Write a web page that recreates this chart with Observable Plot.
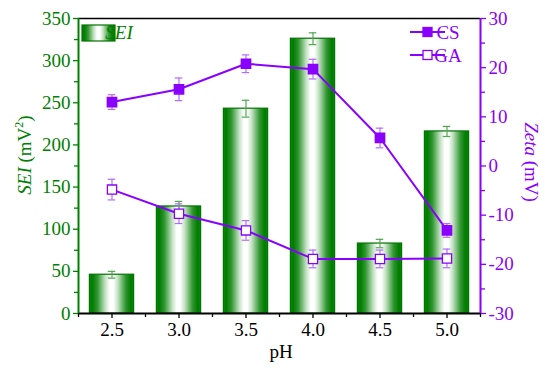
<!DOCTYPE html>
<html>
<head>
<meta charset="utf-8">
<script src="https://cdn.jsdelivr.net/npm/d3@7"></script>
<script src="https://cdn.jsdelivr.net/npm/@observablehq/plot@0.6"></script>
<style>
  html, body { margin: 0; padding: 0; background: #fff; }
  #chart { width: 550px; height: 371px; }
</style>
</head>
<body>
<div id="chart"></div>
<script>
// ---- data ----
const pH = [2.5, 3.0, 3.5, 4.0, 4.5, 5.0];
const seiValues = [46, 127, 243, 326, 83, 216];
const seiErrors = [4, 6, 10, 7, 5, 6];
const csZeta = [13.0, 15.6, 20.8, 19.7, 5.7, -13.1];
const csErrors = [1.5, 2.3, 1.8, 2.0, 2.0, 1.4];
const gaZeta = [-4.8, -9.7, -13.1, -18.9, -18.9, -18.8];
const gaErrors = [2.1, 2.0, 2.0, 1.8, 1.8, 1.9];
const xTicks = [2.5, 3.0, 3.5, 4.0, 4.5, 5.0];
const leftTicks = [0, 50, 100, 150, 200, 250, 300, 350];
const rightTicks = [-30, -20, -10, 0, 10, 20, 30];

// ---- styling ----
const GREEN = "#008000";
const GREEN_ERR = "#4fa84f";
const PURPLE = "#8a00ff";
const PURPLE_ERR = "#b46cff";
const FONT = '"Liberation Serif", "Times New Roman", serif';

const leftDomain = [0, 350];
const rightDomain = [-30, 30];
const xDomain = [2.25, 5.25];
// map zeta (right axis) into the left-axis value space
const z2s = z => (z - rightDomain[0]) / (rightDomain[1] - rightDomain[0]) * (leftDomain[1] - leftDomain[0]) + leftDomain[0];
const s2z = s => (s - leftDomain[0]) / (leftDomain[1] - leftDomain[0]) * (rightDomain[1] - rightDomain[0]) + rightDomain[0];

const bars = pH.map((p, i) => ({pH: p, sei: seiValues[i], err: seiErrors[i]}));
const cs = pH.map((p, i) => ({pH: p, z: csZeta[i], err: csErrors[i]}));
const ga = pH.map((p, i) => ({pH: p, z: gaZeta[i], err: gaErrors[i]}));

const halfBar = 0.165;
const cap = 0.028;

const minorX = d3.range(xDomain[0], xDomain[1] + 0.001, 0.25).filter(v => !xTicks.includes(+v.toFixed(2)));
const minorLeft = leftTicks.slice(0, -1).map(v => v + 25);
const minorRight = rightTicks.slice(0, -1).map(v => v + 5);
const fmtSigned = v => (v < 0 ? "-" : "") + Math.abs(Math.round(v));

function errMarks(data, yAcc, errAcc, color) {
  return [
    Plot.ruleX(data, {x: "pH", y1: d => yAcc(d) - errAcc(d), y2: d => yAcc(d) + errAcc(d), stroke: color, strokeWidth: 1.2}),
    Plot.ruleY(data, {y: d => yAcc(d) + errAcc(d), x1: d => d.pH - cap, x2: d => d.pH + cap, stroke: color, strokeWidth: 1.2}),
    Plot.ruleY(data, {y: d => yAcc(d) - errAcc(d), x1: d => d.pH - cap, x2: d => d.pH + cap, stroke: color, strokeWidth: 1.2})
  ];
}

const chart = Plot.plot({
  width: 550,
  height: 371,
  marginLeft: 78,
  marginRight: 70,
  marginTop: 18,
  marginBottom: 58,
  style: {fontFamily: FONT, fontSize: "19px", background: "#fff", overflow: "visible"},
  x: {domain: xDomain},
  y: {domain: leftDomain},
  marks: [
    Plot.rect(bars, {x1: d => d.pH - halfBar, x2: d => d.pH + halfBar, y1: 0, y2: "sei", fill: "url(#barGrad)", stroke: "#007400", strokeWidth: 1.2}),
    ...errMarks(bars, d => d.sei, d => d.err, GREEN_ERR),
    // GA
    Plot.line(ga, {x: "pH", y: d => z2s(d.z), stroke: PURPLE, strokeWidth: 2}),
    ...errMarks(ga, d => z2s(d.z), d => d.err * 350 / 60, PURPLE_ERR),
    Plot.dot(ga, {x: "pH", y: d => z2s(d.z), symbol: "square", r: 5.2, fill: "#fff", stroke: PURPLE, strokeWidth: 1.3}),
    // CS
    Plot.line(cs, {x: "pH", y: d => z2s(d.z), stroke: PURPLE, strokeWidth: 2}),
    ...errMarks(cs, d => z2s(d.z), d => d.err * 350 / 60, PURPLE_ERR),
    Plot.dot(cs, {x: "pH", y: d => z2s(d.z), symbol: "square", r: 5.2, fill: PURPLE, stroke: PURPLE}),
    // axes
    Plot.axisX(xTicks, {tickFormat: d3.format(".1f"), tickSize: 5, tickPadding: 4, color: "#000", label: null, strokeWidth: 1.3}),
    Plot.axisX(minorX, {tickFormat: () => "", tickSize: 4, color: "#000", label: null, strokeWidth: 1.3}),
    Plot.axisY(leftTicks, {tickSize: 5, tickPadding: 3, color: GREEN, label: null, strokeWidth: 1.3}),
    Plot.axisY(minorLeft, {tickFormat: () => "", tickSize: 4, color: GREEN, label: null, strokeWidth: 1.3}),
    Plot.axisY(rightTicks.map(z2s), {anchor: "right", tickFormat: s => fmtSigned(s2z(s)), tickSize: 5, tickPadding: 3, color: PURPLE, label: null, strokeWidth: 1.3}),
    Plot.axisY(minorRight.map(z2s), {anchor: "right", tickFormat: () => "", tickSize: 4, color: PURPLE, label: null, strokeWidth: 1.3}),
    // frame
    Plot.ruleY([leftDomain[1]], {stroke: "#000", strokeWidth: 1.5}),
    Plot.ruleY([leftDomain[0]], {stroke: "#000", strokeWidth: 2}),
    Plot.ruleX([xDomain[0]], {stroke: GREEN, strokeWidth: 2}),
    Plot.ruleX([xDomain[1]], {stroke: PURPLE, strokeWidth: 2})
  ]
});

document.getElementById("chart").appendChild(chart);

const svg = d3.select(chart);
// gradient definition
const defs = svg.insert("defs", ":first-child");
const grad = defs.append("linearGradient").attr("id", "barGrad").attr("x1", 0).attr("x2", 1).attr("y1", 0).attr("y2", 0);
[[0, "#009000"], [0.06, "#007a00"], [0.18, "#2f962f"], [0.36, "#c4e2c4"], [0.46, "#ffffff"], [0.54, "#ffffff"], [0.64, "#c4e2c4"], [0.82, "#2f962f"], [0.94, "#007a00"], [1, "#009000"]]
  .forEach(([o, c]) => grad.append("stop").attr("offset", o).attr("stop-color", c));

const g = svg.append("g").style("font-family", FONT).attr("font-size", 19);

// left axis title
const lt = g.append("text").attr("transform", "translate(31,155) rotate(-90)").attr("text-anchor", "middle").attr("fill", GREEN);
lt.append("tspan").attr("font-style", "italic").text("SEI");
lt.append("tspan").text(" (mV");
lt.append("tspan").attr("font-size", 12).attr("dy", -8).text("2");
lt.append("tspan").attr("dy", 8).text(")");

// right axis title
const rt = g.append("text").attr("transform", "translate(525,162) rotate(90)").attr("text-anchor", "middle").attr("fill", PURPLE);
rt.append("tspan").attr("font-style", "italic").text("Zeta");
rt.append("tspan").text(" (mV)");

// x title
g.append("text").attr("x", 281).attr("y", 358).attr("text-anchor", "middle").attr("fill", "#000").text("pH");

// SEI legend
g.append("rect").attr("x", 82).attr("y", 25).attr("width", 33).attr("height", 16).attr("fill", "url(#barGrad)").attr("stroke", "#007400").attr("stroke-width", 1.2);
g.append("text").attr("x", 119).attr("y", 39).attr("fill", GREEN).attr("font-style", "italic").text("SEI");

// CS / GA legend
[["CS", 32, PURPLE], ["GA", 55, "#fff"]].forEach(([name, y, fill]) => {
  g.append("line").attr("x1", 410).attr("x2", 445).attr("y1", y).attr("y2", y).attr("stroke", PURPLE).attr("stroke-width", 2);
  g.append("rect").attr("x", 423).attr("y", y - 4.5).attr("width", 9).attr("height", 9).attr("fill", fill).attr("stroke", PURPLE).attr("stroke-width", 1.3);
  g.append("text").attr("x", 448).attr("y", y + 7).attr("fill", PURPLE).text(name);
});
</script>
</body>
</html>
